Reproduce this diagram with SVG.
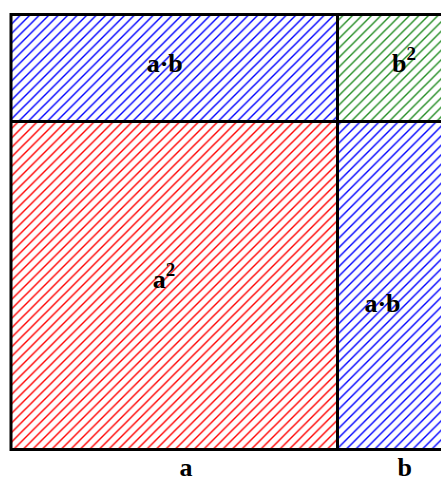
<svg xmlns="http://www.w3.org/2000/svg" width="441" height="482" viewBox="0 0 441 482">
  <style>
    .lbl { font-family: "Liberation Serif", "Times New Roman", serif; font-weight: bold; font-size: 26px; fill: #000; }
    .sup { font-size: 19px; }
    .edge { fill: none; stroke: #000; stroke-width: 3; }
    .hatch { stroke-width: 1.4; }
  </style>
  <defs>
    <pattern id="hBlue" patternUnits="userSpaceOnUse" x="7" y="0" width="9.5" height="9.5">
      <path class="hatch" d="M-1,1 L1,-1 M0,9.5 L9.5,0 M8.5,10.5 L10.5,8.5" stroke="#0000ff"/>
    </pattern>
    <pattern id="hRed" patternUnits="userSpaceOnUse" x="7" y="0" width="9.5" height="9.5">
      <path class="hatch" d="M-1,1 L1,-1 M0,9.5 L9.5,0 M8.5,10.5 L10.5,8.5" stroke="#ff0000"/>
    </pattern>
    <pattern id="hGreen" patternUnits="userSpaceOnUse" x="7" y="0" width="9.5" height="9.5">
      <path class="hatch" d="M-1,1 L1,-1 M0,9.5 L9.5,0 M8.5,10.5 L10.5,8.5" stroke="#228b22"/>
    </pattern>
  </defs>
  <rect width="441" height="482" fill="#fff"/>

  <g id="ab-top">
    <rect x="11" y="14.5" width="326.5" height="107" fill="url(#hBlue)"/>
    <text class="lbl" x="164.7" y="71.5" text-anchor="middle">a·b</text>
  </g>
  <g id="b-squared">
    <rect x="337.5" y="14.5" width="130" height="107" fill="url(#hGreen)"/>
    <text class="lbl" x="392" y="72">b<tspan class="sup" dy="-12">2</tspan></text>
  </g>
  <g id="a-squared">
    <rect x="11" y="121.5" width="326.5" height="328" fill="url(#hRed)"/>
    <text class="lbl" x="152.7" y="287.7">a<tspan class="sup" dy="-12">2</tspan></text>
  </g>
  <g id="ab-right">
    <rect x="337.5" y="121.5" width="130" height="328" fill="url(#hBlue)"/>
    <text class="lbl" x="382.5" y="312" text-anchor="middle">a·b</text>
  </g>

  <g id="borders">
    <rect class="edge" x="11" y="14.5" width="470" height="435"/>
    <line class="edge" x1="337.5" y1="14.5" x2="337.5" y2="449.5"/>
    <line class="edge" x1="11" y1="121.5" x2="470" y2="121.5"/>
  </g>

  <g id="axis-labels">
    <text class="lbl" x="186" y="476" text-anchor="middle">a</text>
    <text class="lbl" x="404.7" y="476" text-anchor="middle">b</text>
  </g>
</svg>
